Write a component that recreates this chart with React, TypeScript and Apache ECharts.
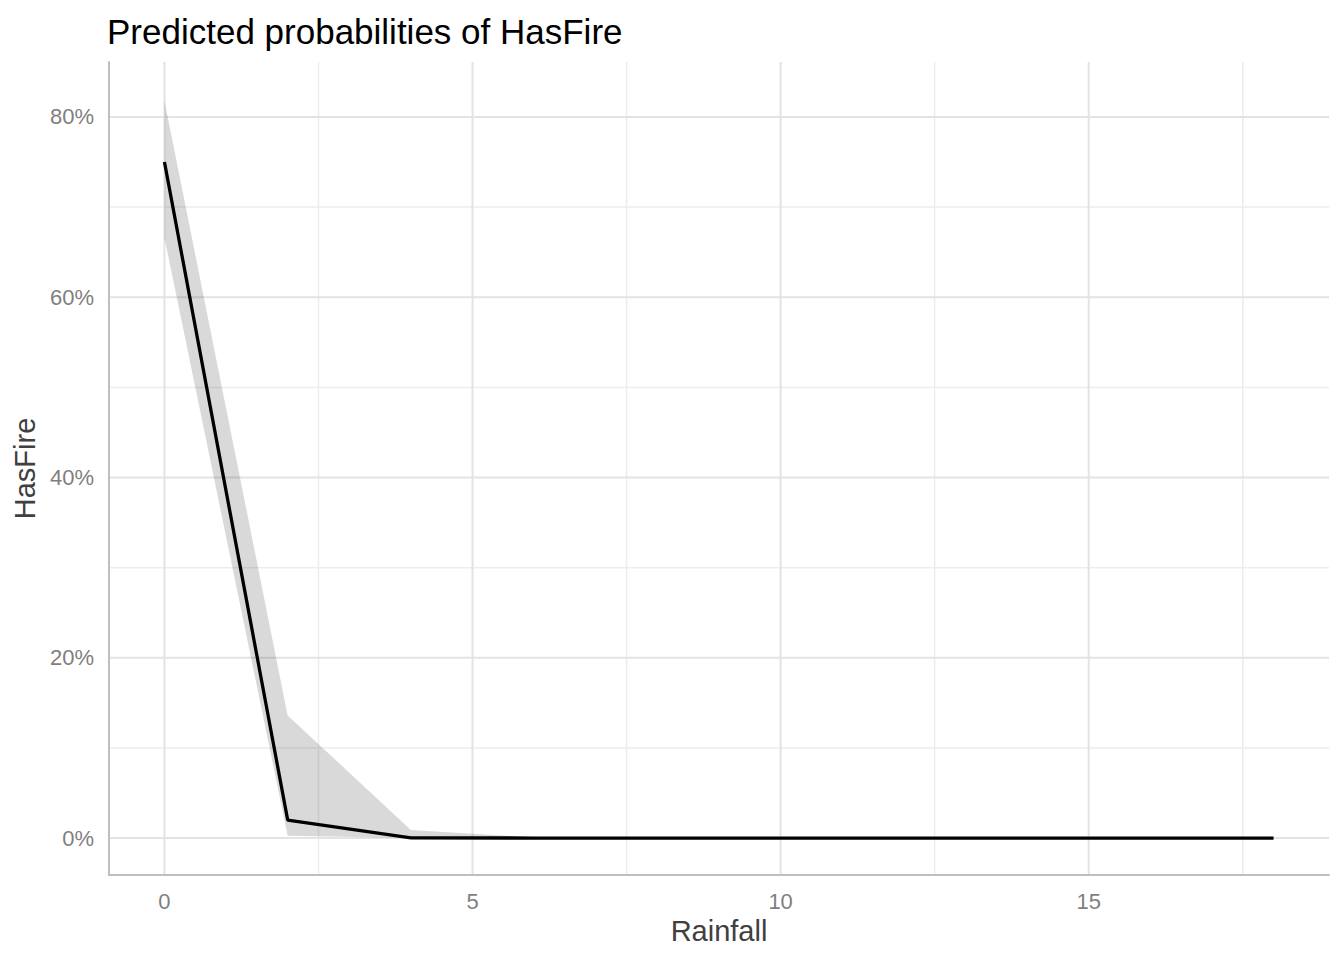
import React, { useEffect, useRef } from "react";
import * as echarts from "echarts";

const rainfall = [0, 2, 4, 6, 8, 10, 12, 14, 16, 18];
const predicted = [75.0, 2.0, 0.03, 0, 0, 0, 0, 0, 0, 0];
const ciLower = [66.6, 0.26, 0.0, 0, 0, 0, 0, 0, 0, 0];
const ciUpper = [81.8, 13.6, 0.9, 0.08, 0.01, 0, 0, 0, 0, 0];

const xTicks = [0, 5, 10, 15];
const xMinor = [2.5, 7.5, 12.5, 17.5];
const yTicks = [0, 20, 40, 60, 80];
const yMinor = [10, 30, 50, 70];

const FONT = "'Liberation Sans', Arial, Helvetica, sans-serif";

export default function App() {
  const ref = useRef<HTMLDivElement>(null);
  useEffect(() => {
    if (!ref.current) return;
    const chart = echarts.init(ref.current, undefined, { renderer: "svg" });

    const gridItems: { axis: "x" | "y"; v: number; major: boolean }[] = [
      ...xMinor.map((v) => ({ axis: "x" as const, v, major: false })),
      ...yMinor.map((v) => ({ axis: "y" as const, v, major: false })),
      ...xTicks.map((v) => ({ axis: "x" as const, v, major: true })),
      ...yTicks.map((v) => ({ axis: "y" as const, v, major: true })),
    ];

    const option = {
      animation: false,
      backgroundColor: "#ffffff",
      textStyle: { fontFamily: FONT },
      title: {
        text: "Predicted probabilities of HasFire",
        left: 102,
        top: 9,
        textStyle: { fontFamily: FONT, fontSize: 35, fontWeight: "normal", color: "#000000" },
      },
      grid: { left: 109, right: 15, top: 62, bottom: 85, containLabel: false },
      xAxis: {
        type: "value",
        min: -0.9,
        max: 18.9,
        name: "Rainfall",
        nameLocation: "middle",
        nameGap: 40,
        nameTextStyle: { fontFamily: FONT, fontSize: 29, color: "#404040" },
        axisLine: { show: true, onZero: false, lineStyle: { color: "#bfbfbf", width: 2 } },
        axisTick: { show: false },
        splitLine: { show: false },
        axisLabel: {
          customValues: xTicks,
          fontSize: 22,
          color: "#7f7f7f",
          margin: 15,
          fontFamily: FONT,
        },
      },
      yAxis: {
        type: "value",
        min: -4.1,
        max: 86.1,
        name: "HasFire",
        nameLocation: "middle",
        nameGap: 70,
        nameRotate: 90,
        nameTextStyle: { fontFamily: FONT, fontSize: 29, color: "#404040" },
        axisLine: { show: true, onZero: false, lineStyle: { color: "#bfbfbf", width: 2 } },
        axisTick: { show: false },
        splitLine: { show: false },
        axisLabel: {
          customValues: yTicks,
          formatter: "{value}%",
          fontSize: 22,
          color: "#7f7f7f",
          margin: 15,
          fontFamily: FONT,
        },
      },
      series: [
        {
          type: "custom",
          name: "gridlines",
          data: gridItems.map((g, i) => [i]),
          silent: true,
          clip: false,
          z: 0,
          renderItem: (params: any, api: any) => {
            const g = gridItems[params.dataIndex];
            const cs = params.coordSys;
            let shape;
            if (g.axis === "x") {
              const p = api.coord([g.v, 0]);
              shape = { x1: p[0], y1: cs.y, x2: p[0], y2: cs.y + cs.height };
            } else {
              const p = api.coord([0, g.v]);
              shape = { x1: cs.x, y1: p[1], x2: cs.x + cs.width, y2: p[1] };
            }
            return {
              type: "line",
              shape,
              style: {
                stroke: g.major ? "#e3e3e3" : "#ededed",
                lineWidth: g.major ? 2 : 1.5,
              },
            };
          },
        },
        {
          type: "custom",
          name: "ci",
          data: [[rainfall[0], ciLower[0]]],
          silent: true,
          z: 2,
          renderItem: (params: any, api: any) => {
            const pts: number[][] = [];
            for (let i = 0; i < rainfall.length; i++) pts.push(api.coord([rainfall[i], ciUpper[i]]));
            for (let i = rainfall.length - 1; i >= 0; i--) pts.push(api.coord([rainfall[i], ciLower[i]]));
            return {
              type: "polygon",
              shape: { points: pts },
              style: { fill: "rgba(0,0,0,0.15)", stroke: "none" },
            };
          },
        },
        {
          type: "line",
          name: "predicted",
          data: rainfall.map((x, i) => [x, predicted[i]]),
          symbol: "none",
          lineStyle: { color: "#000000", width: 3.3 },
          itemStyle: { color: "#000000" },
          z: 3,
        },
      ],
    };
    chart.setOption(option as any);
    return () => chart.dispose();
  }, []);
  return (
    <div
      ref={ref}
      style={{ position: "fixed", left: 0, top: 0, width: 1344, height: 960, background: "#fff" }}
    />
  );
}
